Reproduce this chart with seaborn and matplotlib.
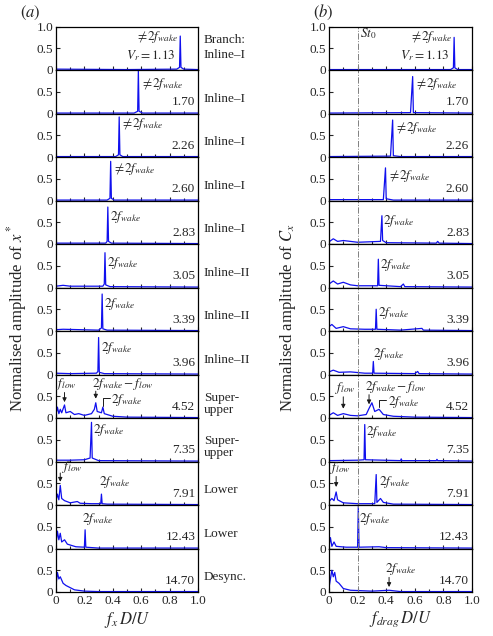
import matplotlib
matplotlib.use("Agg")
import matplotlib.pyplot as plt
import seaborn as sns
import numpy as np

sns.set_theme(style="ticks")
plt.rcParams['font.family'] = ['Liberation Serif', 'DejaVu Serif']
plt.rcParams['mathtext.fontset'] = 'stix'

vr_labels = ["1.13", "1.70", "2.26", "2.60", "2.83", "3.05", "3.39", "3.96",
             "4.52", "7.35", "7.91", "12.43", "14.70"]
branches = ["Inline\u2013I", "Inline\u2013I", "Inline\u2013I", "Inline\u2013I", "Inline\u2013I",
            "Inline\u2013II", "Inline\u2013II", "Inline\u2013II", "Super-\nupper", "Super-\nupper",
            "Lower", "Lower", "Desync."]

# spectra: lists of (frequency, amplitude) points
left_spectra = [
    [(0, .02), (.5, .01), (.85, .02), (.87, .06), (.875, .78), (.88, .06), (.9, .02), (1, .01)],
    [(0, .01), (.55, .01), (.575, .05), (.58, .98), (.585, .05), (.61, .01), (1, .01)],
    [(0, .01), (.42, .01), (.44, .05), (.445, .92), (.45, .05), (.47, .01), (1, .01)],
    [(0, .01), (.36, .01), (.38, .05), (.385, .9), (.39, .05), (.41, .01), (1, .01)],
    [(0, .02), (.1, .02), (.35, .02), (.36, .06), (.365, .85), (.37, .06), (.39, .02), (1, .01)],
    [(0, .03), (.05, .05), (.1, .03), (.33, .03), (.34, .08), (.345, .8), (.35, .06), (.38, .02), (1, .01)],
    [(0, .03), (.05, .04), (.3, .02), (.32, .07), (.325, .85), (.33, .05), (.36, .02), (1, .01)],
    [(0, .03), (.1, .02), (.285, .03), (.295, .07), (.3, .85), (.305, .05), (.34, .02), (1, .01)],
    [(0, .08), (.01, .25), (.02, .1), (.03, .2), (.04, .12), (.06, .3), (.07, .12), (.1, .15), (.13, .08),
     (.16, .1), (.2, .06), (.25, .1), (.27, .2), (.28, .35), (.29, .15), (.32, .12), (.33, .25), (.34, .1),
     (.4, .04), (.5, .02), (1, .01)],
    [(0, .03), (.1, .03), (.2, .04), (.24, .08), (.25, .9), (.255, .08), (.3, .02), (1, .01)],
    [(0, .1), (.01, .25), (.02, .12), (.03, .45), (.04, .15), (.06, .1), (.1, .05), (.15, .08), (.17, .04),
     (.25, .03), (.315, .03), (.32, .25), (.325, .03), (.36, .02), (1, .01)],
    [(0, .1), (.01, .4), (.02, .2), (.03, .35), (.04, .15), (.06, .2), (.08, .1), (.1, .08), (.14, .04),
     (.2, .03), (.205, .43), (.21, .03), (.3, .01), (1, .01)],
    [(0, .15), (.01, .45), (.02, .3), (.03, .35), (.05, .2), (.07, .15), (.1, .1), (.13, .05), (.2, .02),
     (.3, .01), (1, .01)],
]
right_spectra = [
    [(0, .01), (.85, .01), (.87, .05), (.875, .75), (.88, .05), (.9, .01), (1, .01)],
    [(0, .01), (.57, .02), (.585, .85), (.59, .02), (1, .01)],
    [(0, .01), (.43, .02), (.445, .85), (.45, .03), (.5, .01), (1, .01)],
    [(0, .02), (.38, .02), (.395, .75), (.4, .04), (.45, .01), (1, .01)],
    [(0, .05), (.03, .12), (.06, .06), (.1, .08), (.2, .04), (.36, .06), (.37, .65), (.375, .08),
     (.4, .03), (.75, .02), (.76, .06), (.77, .02), (1, .01)],
    [(0, .08), (.03, .15), (.06, .08), (.1, .12), (.15, .06), (.2, .04), (.34, .04), (.345, .65),
     (.35, .05), (.5, .02), (.52, .08), (.53, .02), (1, .01)],
    [(0, .1), (.02, .15), (.05, .06), (.1, .1), (.15, .05), (.25, .04), (.325, .04), (.33, .5),
     (.335, .04), (.5, .02), (.65, .06), (.66, .02), (1, .01)],
    [(0, .06), (.03, .1), (.07, .05), (.15, .06), (.25, .03), (.305, .03), (.31, .3), (.315, .03),
     (.6, .02), (.62, .07), (.63, .02), (1, .01)],
    [(0, .06), (.03, .12), (.06, .06), (.1, .1), (.15, .06), (.2, .05), (.26, .08), (.28, .22), (.3, .35),
     (.32, .15), (.35, .2), (.38, .08), (.45, .04), (.6, .02), (1, .01)],
    [(0, .02), (.2, .03), (.245, .04), (.25, .85), (.255, .04), (.5, .02), (.505, .06), (.51, .02),
     (.75, .02), (.755, .05), (.76, .02), (1, .01)],
    [(0, .08), (.02, .15), (.035, .1), (.05, .3), (.06, .12), (.1, .05), (.2, .03), (.32, .03),
     (.33, .7), (.335, .06), (.36, .15), (.38, .06), (.45, .02), (1, .01)],
    [(0, .05), (.01, .25), (.02, .05), (.035, .15), (.05, .05), (.12, .03), (.2, .03), (.205, .98),
     (.21, .03), (.35, .04), (.4, .02), (1, .01)],
    [(0, .1), (.01, .3), (.02, .5), (.03, .35), (.04, .45), (.05, .25), (.07, .2), (.1, .08), (.15, .04),
     (.3, .02), (.42, .04), (.5, .01), (1, .01)],
]

W, H = 493, 636
fig = plt.figure(figsize=(W / 100, H / 100), dpi=100)
ph = 43.5 / H
bottom0 = 1 - 592 / H
blue = "#1010ee"
fs = 9.5
arr = dict(arrowstyle="-|>", color="k", lw=0.7, mutation_scale=6)

def make_col(left, width, spectra):
    axes = []
    for i, sp in enumerate(spectra):
        b = bottom0 + (12 - i) * ph
        ax = fig.add_axes([left, b, width, ph])
        f = [p[0] for p in sp]
        a = [p[1] for p in sp]
        sns.lineplot(x=f, y=a, ax=ax, color=blue, lw=0.9, sort=False)
        ax.set_xlim(0, 1)
        ax.set_ylim(0, 1)
        ax.set_yticks([0, 0.5, 1.0] if i == 0 else [0, 0.5])
        ax.set_yticklabels(["0", "0.5", "1.0"] if i == 0 else ["0", "0.5"], fontsize=9.5)
        ax.set_xticks(np.arange(0, 1.01, 0.2))
        ax.set_xticks(np.arange(0, 1.01, 0.1), minor=True)
        ax.tick_params(direction="in", length=3, width=0.8, labelsize=9.5, pad=2, which="both", top=False)
        ax.tick_params(which="minor", length=2)
        if i < 12:
            ax.set_xticklabels([])
        else:
            ax.set_xticklabels(["0", "0.2", "0.4", "0.6", "0.8", "1.0"])
        for s in ax.spines.values():
            s.set_linewidth(0.9)
            s.set_color("black")
        if i:
            ax.text(0.98, 0.12, vr_labels[i], transform=ax.transAxes, ha="right",
                    va="bottom", fontsize=fs)
        axes.append(ax)
    return axes

L = make_col(56 / W, 142 / W, left_spectra)
R = make_col(329 / W, 143 / W, right_spectra)

for ax in R:
    ax.axvline(0.2, color="gray", lw=0.7, ls="-.")
R[0].text(0.22, 0.75, "$St_0$", fontsize=fs)

ne = r"$\neq\!2f_{wake}$"
tw = r"$2f_{wake}$"
for axes in (L, R):
    axes[0].text(0.84, 0.25, "$V_r = 1.13$", ha="right", fontsize=fs)
    axes[0].text(0.86, 0.68, ne, ha="right", fontsize=fs)

L[1].text(0.6, 0.6, ne, fontsize=fs)
L[2].text(0.46, 0.7, ne, fontsize=fs)
L[3].text(0.4, 0.65, ne, fontsize=fs)
L[4].text(0.38, 0.55, tw, fontsize=fs)
L[5].text(0.36, 0.5, tw, fontsize=fs)
L[6].text(0.34, 0.55, tw, fontsize=fs)
L[7].text(0.32, 0.55, tw, fontsize=fs)
L[9].text(0.26, 0.65, tw, fontsize=fs)
L[10].text(0.3, 0.45, tw, fontsize=fs)
L[11].text(0.18, 0.6, tw, fontsize=fs)
L[8].annotate("", xy=(0.06, 0.3), xytext=(0.06, 0.65), arrowprops=arr)
L[8].text(0.0, 0.72, "$f_{low}$", fontsize=fs)
L[8].annotate("", xy=(0.28, 0.38), xytext=(0.28, 0.68), arrowprops=arr)
L[8].text(0.25, 0.72, "$2f_{wake}-f_{low}$", fontsize=fs)
L[8].plot([0.33, 0.33, 0.38], [0.28, 0.45, 0.45], color="k", lw=0.7)
L[8].text(0.39, 0.35, tw, fontsize=fs)
L[10].annotate("", xy=(0.03, 0.47), xytext=(0.03, 0.8), arrowprops=arr)
L[10].text(0.04, 0.8, "$f_{low}$", fontsize=fs)
for t, ax in zip(branches, L):
    ax.text(1.04, 0.2 if "\n" not in t else 0.05, t, transform=ax.transAxes, fontsize=fs, va="bottom",
            linespacing=1.0)
L[0].text(1.04, 0.62, "Branch:", transform=L[0].transAxes, fontsize=fs)

R[1].text(0.6, 0.6, ne, fontsize=fs)
R[2].text(0.46, 0.6, ne, fontsize=fs)
R[3].text(0.41, 0.5, ne, fontsize=fs)
R[4].text(0.38, 0.45, tw, fontsize=fs)
R[5].text(0.36, 0.45, tw, fontsize=fs)
R[6].text(0.34, 0.35, tw, fontsize=fs)
R[7].text(0.31, 0.4, tw, fontsize=fs)
R[9].text(0.26, 0.6, tw, fontsize=fs)
R[10].text(0.35, 0.45, tw, fontsize=fs)
R[11].text(0.21, 0.6, tw, fontsize=fs)
R[8].annotate("", xy=(0.1, 0.15), xytext=(0.1, 0.55), arrowprops=arr)
R[8].text(0.04, 0.62, "$f_{low}$", fontsize=fs)
R[8].annotate("", xy=(0.28, 0.25), xytext=(0.28, 0.6), arrowprops=arr)
R[8].text(0.25, 0.65, "$2f_{wake}-f_{low}$", fontsize=fs)
R[8].plot([0.35, 0.35, 0.4], [0.25, 0.42, 0.42], color="k", lw=0.7)
R[8].text(0.41, 0.3, tw, fontsize=fs)
R[10].annotate("", xy=(0.05, 0.35), xytext=(0.05, 0.72), arrowprops=arr)
R[10].text(0.01, 0.78, "$f_{low}$", fontsize=fs)
R[12].annotate("", xy=(0.42, 0.05), xytext=(0.42, 0.4), arrowprops=arr)
R[12].text(0.39, 0.45, tw, fontsize=fs)

L[12].set_xlabel("$f_x\\, D/U$", fontsize=12, labelpad=2)
R[12].set_xlabel("$f_{drag}\\, D/U$", fontsize=12, labelpad=2)
fig.text(0.035, 0.5, "Normalised amplitude of $x^*$", rotation=90, va="center", ha="center", fontsize=12)
fig.text(0.585, 0.5, "Normalised amplitude of $C_x$", rotation=90, va="center", ha="center", fontsize=12)
fig.text(0.04, 0.98, "$(a)$", fontsize=12, va="center")
fig.text(0.635, 0.98, "$(b)$", fontsize=12, va="center")

fig.savefig("out.png", dpi=100)
